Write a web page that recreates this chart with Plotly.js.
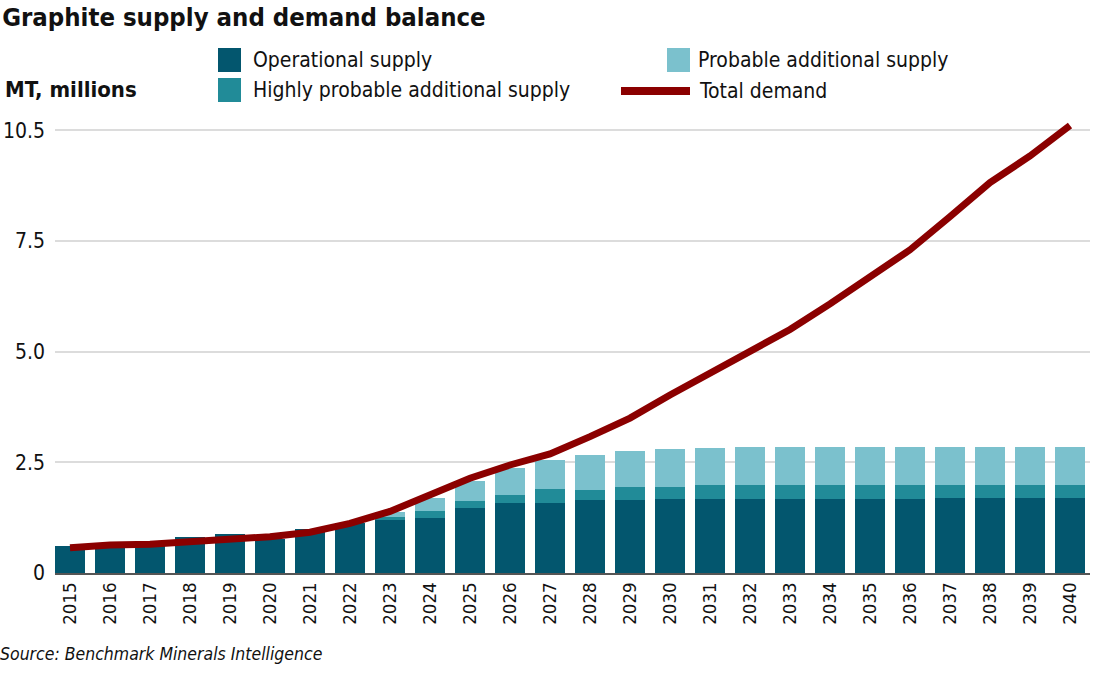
<!DOCTYPE html>
<html>
<head>
<meta charset="utf-8">
<script src="https://cdn.plot.ly/plotly-3.0.1.min.js"></script>
<style>
  html, body { margin: 0; padding: 0; background: #fff; }
  #chart { width: 1100px; height: 675px; }
</style>
</head>
<body>
<div id="chart"></div>
<script>
// Graphite supply and demand balance, MT millions
const years = ['2015','2016','2017','2018','2019','2020','2021','2022','2023','2024','2025','2026','2027',
               '2028','2029','2030','2031','2032','2033','2034','2035','2036','2037','2038','2039','2040'];

const operationalSupply = [0.61,0.60,0.60,0.81,0.88,0.76,0.99,1.12,1.19,1.25,1.47,1.58,1.58,
                           1.64,1.64,1.67,1.67,1.67,1.67,1.67,1.67,1.67,1.70,1.70,1.70,1.70];
const highlyProbableSupply = [0,0,0,0,0,0,0,0,0.08,0.15,0.16,0.18,0.32,
                              0.23,0.30,0.27,0.31,0.31,0.31,0.31,0.31,0.31,0.28,0.28,0.28,0.28];
const probableSupply = [0,0,0,0,0,0,0,0,0.11,0.30,0.44,0.61,0.65,
                        0.79,0.81,0.85,0.84,0.86,0.86,0.86,0.86,0.86,0.86,0.86,0.86,0.86];
const totalDemand = [0.57,0.63,0.65,0.70,0.75,0.82,0.92,1.12,1.39,1.77,2.14,2.44,2.69,
                     3.08,3.50,4.02,4.50,4.98,5.50,6.08,6.70,7.30,8.05,8.82,9.42,10.11];

const yTickVals = [0, 2.5, 5, 7.5, 10];
const yTickText = ['0', '2.5', '5.0', '7.5', '10.5'];

const seriesNames = ['Operational supply', 'Highly probable additional supply',
                     'Probable additional supply', 'Total demand'];

const COLORS = {
  operational: '#03566e',
  highly: '#218b98',
  probable: '#7bc1cd',
  demand: '#8b0000'
};

const FONT = "'DejaVu Sans Condensed', 'Roboto', sans-serif";

// page geometry
const W = 1100, H = 675;
const M = { l: 55, r: 10, t: 117, b: 102 };
const plotW = W - M.l - M.r, plotH = H - M.t - M.b;
const px = x => (x - M.l) / plotW;          // page px -> paper x
const py = y => (H - M.b - y) / plotH;      // page px -> paper y

const traces = [
  { type: 'bar', x: years, y: operationalSupply, name: seriesNames[0],
    marker: { color: COLORS.operational }, hoverinfo: 'x+y+name' },
  { type: 'bar', x: years, y: highlyProbableSupply, name: seriesNames[1],
    marker: { color: COLORS.highly }, hoverinfo: 'x+y+name' },
  { type: 'bar', x: years, y: probableSupply, name: seriesNames[2],
    marker: { color: COLORS.probable }, hoverinfo: 'x+y+name' },
  { type: 'scatter', mode: 'lines', x: years, y: totalDemand, name: seriesNames[3],
    line: { color: COLORS.demand, width: 7 }, cliponaxis: false }
];

// hand-built legend: swatches + labels
const legendItems = [
  { name: seriesNames[0], color: COLORS.operational, kind: 'box',  x: 218, y: 60, gap: 33 },
  { name: seriesNames[1], color: COLORS.highly,      kind: 'box',  x: 218, y: 90, gap: 33 },
  { name: seriesNames[2], color: COLORS.probable,    kind: 'box',  x: 667, y: 60, gap: 29 },
  { name: seriesNames[3], color: COLORS.demand,      kind: 'line', x: 621, y: 91, gap: 76 }
];
const shapes = [], annotations = [];
legendItems.forEach(it => {
  if (it.kind === 'box') {
    shapes.push({ type: 'rect', xref: 'paper', yref: 'paper',
      x0: px(it.x), x1: px(it.x + 23), y0: py(it.y + 12), y1: py(it.y - 12),
      fillcolor: it.color, line: { width: 0 } });
  } else {
    shapes.push({ type: 'line', xref: 'paper', yref: 'paper',
      x0: px(it.x), x1: px(it.x + 69), y0: py(it.y), y1: py(it.y),
      line: { color: it.color, width: 8 } });
  }
  annotations.push({ xref: 'paper', yref: 'paper', x: px(it.x + it.gap), y: py(it.y),
    xanchor: 'left', yanchor: 'middle', showarrow: false, text: it.name,
    font: { family: FONT, size: 21, color: '#111' } });
});

annotations.push({ xref: 'paper', yref: 'paper', x: px(3), y: py(89),
  xanchor: 'left', yanchor: 'middle', showarrow: false, text: '<b>MT, millions</b>',
  font: { family: FONT, size: 22, color: '#111' } });

annotations.push({ xref: 'paper', yref: 'paper', x: px(-2), y: py(654),
  xanchor: 'left', yanchor: 'middle', showarrow: false,
  text: '<i>Source: Benchmark Minerals Intelligence</i>',
  font: { family: FONT, size: 17.5, color: '#111' } });

const layout = {
  width: W, height: H,
  margin: M,
  paper_bgcolor: '#fff', plot_bgcolor: '#fff',
  barmode: 'stack', bargap: 0.25,
  showlegend: false,
  font: { family: FONT, color: '#111' },
  title: {
    text: '<b>Graphite supply and demand balance</b>',
    xref: 'container', yref: 'container', x: 0.002, y: 1 - 17 / H,
    xanchor: 'left', yanchor: 'middle',
    font: { family: FONT, size: 25.5, color: '#111' }
  },
  xaxis: {
    type: 'category', range: [-0.375, 25.5],
    tickangle: -90, tickfont: { family: FONT, size: 18.5, color: '#111' },
    showgrid: false, showline: true, linecolor: '#555', linewidth: 2,
    ticks: '', fixedrange: true
  },
  yaxis: {
    range: [0, 10.3], tickvals: yTickVals, ticktext: yTickText,
    tickfont: { family: FONT, size: 21, color: '#111' },
    showgrid: true, gridcolor: '#dcdcdc', gridwidth: 2,
    zeroline: false, showline: false, ticks: '', ticklabelstandoff: 9,
    fixedrange: true
  },
  shapes: shapes,
  annotations: annotations
};

Plotly.newPlot('chart', traces, layout, { displayModeBar: false, staticPlot: true });
</script>
</body>
</html>
